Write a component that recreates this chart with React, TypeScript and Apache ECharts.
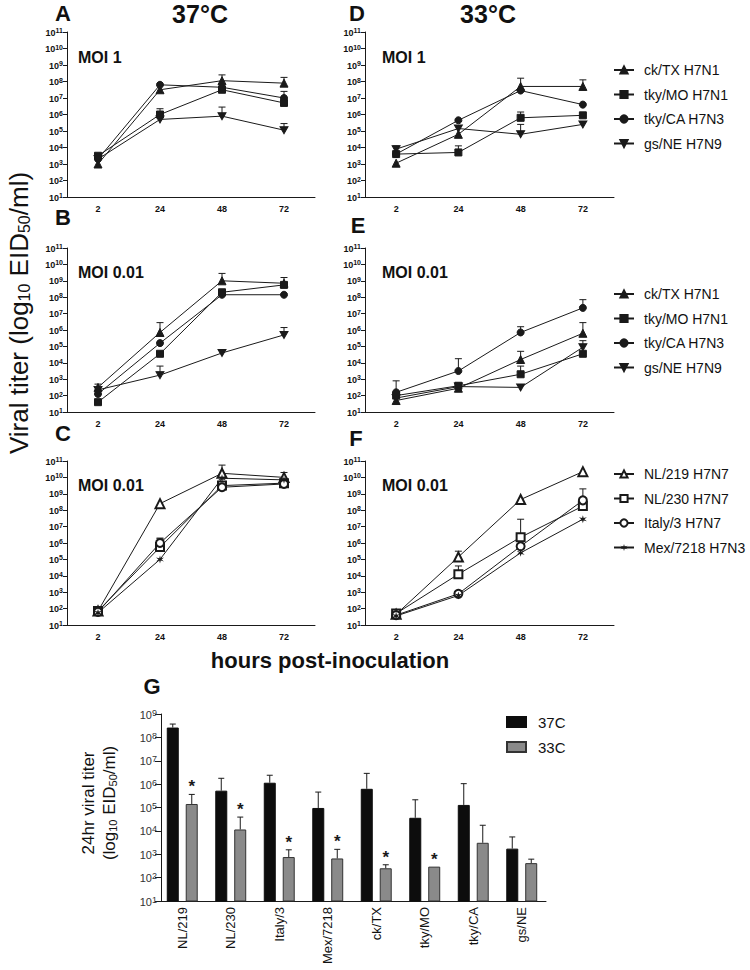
import React, { useEffect, useRef } from 'react';
import * as echarts from 'echarts';

const FONT = "'Liberation Sans', Arial, Helvetica, sans-serif";
const INK = '#1a1a1a';

// ---------- categories / names ----------
const hours = ['2', '24', '48', '72'];
const avianNames = ['ck/TX H7N1', 'tky/MO H7N1', 'tky/CA H7N3', 'gs/NE H7N9'];
const h7Names = ['NL/219 H7N7', 'NL/230 H7N7', 'Italy/3 H7N7', 'Mex/7218 H7N3'];
const barCats = ['NL/219', 'NL/230', 'Italy/3', 'Mex/7218', 'ck/TX', 'tky/MO', 'tky/CA', 'gs/NE'];
const barNames = ['37C', '33C'];

// ---------- values are log10 EID50/ml ----------
// A: 37°C MOI 1
const A_ckTX = [3.0, 7.5, 8.05, 7.9];
const A_tkyMO = [3.5, 6.0, 7.5, 6.7];
const A_tkyCA = [3.3, 7.8, 7.65, 7.0];
const A_gsNE = [3.3, 5.7, 5.9, 5.05];
const A_ckTX_err = [null, null, 8.4, 8.25];
const A_tkyMO_err = [null, 6.35, null, null];
const A_tkyCA_err = [null, null, null, 7.4];
const A_gsNE_err = [null, null, 6.45, 5.45];

// D: 33°C MOI 1
const D_ckTX = [3.05, 4.8, 7.7, 7.7];
const D_tkyMO = [3.6, 3.7, 5.8, 5.95];
const D_tkyCA = [3.6, 5.65, 7.45, 6.6];
const D_gsNE = [3.9, 5.15, 4.8, 5.4];
const D_ckTX_err = [null, null, 8.2, 8.1];
const D_tkyMO_err = [null, 4.1, 6.15, null];
const D_tkyCA_err = [null, null, null, null];
const D_gsNE_err = [4.1, null, 5.4, null];

// B: 37°C MOI 0.01
const B_ckTX = [2.5, 5.85, 9.0, 8.85];
const B_tkyMO = [1.6, 4.55, 8.3, 8.75];
const B_tkyCA = [2.1, 5.2, 8.15, 8.15];
const B_gsNE = [2.35, 3.25, 4.6, 5.7];
const B_ckTX_err = [null, 6.45, 9.45, null];
const B_tkyMO_err = [null, null, null, 9.2];
const B_tkyCA_err = [null, null, null, null];
const B_gsNE_err = [2.7, 3.8, null, 6.15];

// E: 33°C MOI 0.01
const E_ckTX = [1.7, 2.45, 4.2, 5.8];
const E_tkyMO = [2.0, 2.6, 3.3, 4.55];
const E_tkyCA = [2.2, 3.5, 5.85, 7.35];
const E_gsNE = [1.85, 2.55, 2.5, 4.95];
const E_ckTX_err = [null, null, 4.7, 6.45];
const E_tkyMO_err = [null, 2.75, 3.8, null];
const E_tkyCA_err = [2.9, 4.25, 6.2, 7.85];
const E_gsNE_err = [null, null, null, 5.35];

// C: 37°C MOI 0.01 (H7N7 / H7N3)
const C_NL219 = [1.85, 8.4, 10.25, 10.0];
const C_NL230 = [1.85, 5.75, 9.5, 9.65];
const C_Italy3 = [1.8, 6.0, 9.4, 9.6];
const C_Mex7218 = [1.75, 5.0, 9.95, 9.85];
const C_NL219_err = [null, null, 10.75, 10.3];
const C_NL230_err = [null, 6.25, null, null];
const C_Italy3_err = [null, 6.3, null, null];
const C_Mex7218_err = [null, null, null, null];

// F: 33°C MOI 0.01 (H7N7 / H7N3)
const F_NL219 = [1.65, 5.15, 8.65, 10.35];
const F_NL230 = [1.7, 4.1, 6.35, 8.25];
const F_Italy3 = [1.6, 2.9, 5.8, 8.6];
const F_Mex7218 = [1.55, 2.8, 5.4, 7.45];
const F_NL219_err = [null, 5.5, null, null];
const F_NL230_err = [null, 4.6, 7.45, null];
const F_Italy3_err = [null, 3.1, null, 9.3];
const F_Mex7218_err = [null, null, null, null];

// G: 24 h titers
const G_37 = [8.42, 5.72, 6.06, 4.98, 5.8, 4.56, 5.11, 3.24];
const G_37_err = [8.57, 6.25, 6.38, 5.66, 6.46, 5.33, 6.02, 3.74];
const G_33 = [5.15, 4.06, 2.88, 2.82, 2.4, 2.47, 3.49, 2.62];
const G_33_err = [5.56, 4.59, 3.19, 3.21, 2.55, null, 4.24, 2.79];
const G_sig = [1, 1, 1, 1, 1, 1, 0, 0];

// ---------- symbols ----------
const downTri = 'path://M0,0 L10,0 L5,9 Z';
function starPath() {
  let d = '';
  for (let k = 0; k < 12; k++) {
    const a = ((k * 30 - 90) * Math.PI) / 180;
    const r = k % 2 === 0 ? 5 : 1.7;
    d += (k === 0 ? 'M' : 'L') + (5 + r * Math.cos(a)).toFixed(2) + ',' + (5 + r * Math.sin(a)).toFixed(2) + ' ';
  }
  return 'path://' + d + 'Z';
}
const filledSyms = [
  { s: 'triangle', size: 8, bw: 1 },
  { s: 'rect', size: 7, bw: 1 },
  { s: 'circle', size: 7, bw: 1 },
  { s: downTri, size: [8, 7], bw: 1 },
];
const openSyms = [
  { s: 'emptyTriangle', size: 9, bw: 1 },
  { s: 'emptyRect', size: 8, bw: 1 },
  { s: 'emptyCircle', size: 8, bw: 1 },
  { s: starPath(), size: 8, bw: 0 },
];

const grids = [
  { left: 67, top: 32, width: 248, height: 165 }, // A
  { left: 365, top: 32, width: 249, height: 165 }, // D
  { left: 67, top: 248, width: 248, height: 164 }, // B
  { left: 365, top: 248, width: 249, height: 164 }, // E
  { left: 67, top: 461, width: 248, height: 164 }, // C
  { left: 365, top: 461, width: 249, height: 164 }, // F
  { left: 158, top: 714, width: 388, height: 187 }, // G
];

const panels = [
  { names: avianNames, syms: filledSyms, vals: [A_ckTX, A_tkyMO, A_tkyCA, A_gsNE], errs: [A_ckTX_err, A_tkyMO_err, A_tkyCA_err, A_gsNE_err] },
  { names: avianNames, syms: filledSyms, vals: [D_ckTX, D_tkyMO, D_tkyCA, D_gsNE], errs: [D_ckTX_err, D_tkyMO_err, D_tkyCA_err, D_gsNE_err] },
  { names: avianNames, syms: filledSyms, vals: [B_ckTX, B_tkyMO, B_tkyCA, B_gsNE], errs: [B_ckTX_err, B_tkyMO_err, B_tkyCA_err, B_gsNE_err] },
  { names: avianNames, syms: filledSyms, vals: [E_ckTX, E_tkyMO, E_tkyCA, E_gsNE], errs: [E_ckTX_err, E_tkyMO_err, E_tkyCA_err, E_gsNE_err] },
  { names: h7Names, syms: openSyms, vals: [C_NL219, C_NL230, C_Italy3, C_Mex7218], errs: [C_NL219_err, C_NL230_err, C_Italy3_err, C_Mex7218_err] },
  { names: h7Names, syms: openSyms, vals: [F_NL219, F_NL230, F_Italy3, F_Mex7218], errs: [F_NL219_err, F_NL230_err, F_Italy3_err, F_Mex7218_err] },
];

const supLabel = (size: number, bold: boolean, color: string) => ({
  formatter: (v: number) => `{b|10}{s|${v}}`,
  rich: {
    b: { fontSize: size, fontWeight: bold ? 'bold' : 'normal', fontFamily: FONT, color, lineHeight: size + 1, verticalAlign: 'bottom' },
    s: { fontSize: size - 2, fontWeight: bold ? 'bold' : 'normal', fontFamily: FONT, color, lineHeight: size - 2, verticalAlign: 'top' },
  },
});

function errRender(params: any, api: any) {
  const x = api.value(0);
  const lo = api.value(1);
  const hi = api.value(2);
  const a = api.coord([x, lo]);
  const b = api.coord([x, hi]);
  const st = { stroke: INK, lineWidth: 1 };
  return {
    type: 'group',
    children: [
      { type: 'line', shape: { x1: a[0], y1: a[1], x2: b[0], y2: b[1] }, style: st },
      { type: 'line', shape: { x1: b[0] - 3.5, y1: b[1], x2: b[0] + 3.5, y2: b[1] }, style: st },
    ],
  };
}

function barErrRender(params: any, api: any) {
  const j = api.value(0);
  const v = api.value(1);
  const e = api.value(2);
  const sig = api.value(3);
  const side = api.value(4);
  const off = side === 0 ? -9.5 : 9.5;
  const a = api.coord([j, v]);
  const b = api.coord([j, e]);
  const x = a[0] + off;
  const st = { stroke: INK, lineWidth: 1 };
  const children: any[] = [];
  if (e > v) {
    children.push({ type: 'line', shape: { x1: x, y1: a[1], x2: x, y2: b[1] }, style: st });
    children.push({ type: 'line', shape: { x1: x - 3, y1: b[1], x2: x + 3, y2: b[1] }, style: st });
  }
  if (sig) {
    children.push({
      type: 'text',
      x,
      y: b[1] + 1,
      style: { text: '*', textAlign: 'center', textVerticalAlign: 'bottom', fontSize: 17, fontWeight: 'bold', fontFamily: FONT, fill: INK },
    });
  }
  return { type: 'group', children };
}

function buildOption() {
  const xAxis: any[] = [];
  const yAxis: any[] = [];
  const series: any[] = [];

  panels.forEach((p, i) => {
    xAxis.push({
      gridIndex: i,
      type: 'category',
      data: hours,
      boundaryGap: true,
      axisLine: { lineStyle: { color: INK, width: 1 } },
      axisTick: { alignWithLabel: true, length: 4, lineStyle: { color: INK } },
      axisLabel: { fontSize: 9, fontWeight: 'bold', color: '#111', margin: 7, fontFamily: FONT },
    });
    yAxis.push({
      gridIndex: i,
      type: 'value',
      min: 1,
      max: 11,
      interval: 1,
      axisLine: { show: true, lineStyle: { color: INK, width: 1 } },
      axisTick: { show: true, length: 4, lineStyle: { color: INK } },
      splitLine: { show: false },
      axisLabel: { margin: 4, ...supLabel(9, true, '#111') },
    });
    p.vals.forEach((vals, k) => {
      series.push({
        type: 'line',
        name: p.names[k],
        xAxisIndex: i,
        yAxisIndex: i,
        data: vals,
        symbol: p.syms[k].s,
        symbolSize: p.syms[k].size,
        showAllSymbol: true,
        lineStyle: { color: INK, width: 1 },
        itemStyle: { color: INK, borderColor: INK, borderWidth: p.syms[k].bw },
        z: 3,
      });
    });
    const errData: any[] = [];
    p.vals.forEach((vals, k) => {
      vals.forEach((v, j) => {
        const e = p.errs[k][j];
        if (e !== null) errData.push([j, v, e]);
      });
    });
    series.push({
      type: 'custom',
      xAxisIndex: i,
      yAxisIndex: i,
      renderItem: errRender,
      data: errData,
      encode: { x: 0, y: [1, 2] },
      silent: true,
      z: 2,
    });
  });

  // G bar chart
  xAxis.push({
    gridIndex: 6,
    type: 'category',
    data: barCats,
    boundaryGap: true,
    axisLine: { lineStyle: { color: INK, width: 1 } },
    axisTick: { alignWithLabel: true, length: 5, lineStyle: { color: INK } },
    axisLabel: { rotate: 90, fontSize: 13, color: '#111', margin: 6, fontFamily: FONT },
  });
  yAxis.push({
    gridIndex: 6,
    type: 'value',
    min: 1,
    max: 9,
    interval: 1,
    offset: -3,
    axisLine: { show: true, lineStyle: { color: INK, width: 1 } },
    axisTick: { show: true, length: 6, lineStyle: { color: INK } },
    splitLine: { show: false },
    axisLabel: { margin: 4, ...supLabel(11, false, '#333') },
  });
  series.push({
    type: 'bar',
    name: barNames[0],
    xAxisIndex: 6,
    yAxisIndex: 6,
    data: G_37,
    barWidth: 12,
    barGap: '58%',
    itemStyle: { color: '#0d0d0d', borderColor: '#0d0d0d', borderWidth: 1 },
  });
  series.push({
    type: 'bar',
    name: barNames[1],
    xAxisIndex: 6,
    yAxisIndex: 6,
    data: G_33,
    barWidth: 12,
    barGap: '58%',
    itemStyle: { color: '#8a8a8a', borderColor: '#333', borderWidth: 1 },
  });
  const gErr: any[] = [];
  barCats.forEach((c, j) => {
    gErr.push([j, G_37[j], G_37_err[j] ?? G_37[j], 0, 0]);
    gErr.push([j, G_33[j], G_33_err[j] ?? G_33[j], G_sig[j], 1]);
  });
  series.push({
    type: 'custom',
    xAxisIndex: 6,
    yAxisIndex: 6,
    renderItem: barErrRender,
    data: gErr,
    encode: { x: 0, y: [1, 2] },
    silent: true,
    z: 4,
  });

  const lineLegend = (data: string[], top: number) => ({
    data,
    left: 613,
    top,
    padding: 0,
    orient: 'vertical',
    itemWidth: 20,
    itemHeight: 9,
    itemGap: 8.5,
    selectedMode: false,
    textStyle: { fontSize: 14, lineHeight: 16, fontFamily: FONT, color: '#111', padding: [0, 0, 0, 5] },
  });

  const bigText = (text: string, x: number, y: number, size: number) => ({
    type: 'text',
    x,
    y,
    style: { text, textAlign: 'center', textVerticalAlign: 'middle', fontSize: size, fontWeight: 'bold', fontFamily: FONT, fill: '#111' },
  });
  const moi = (text: string, x: number, y: number) => ({
    type: 'text',
    x,
    y,
    style: { text, textAlign: 'left', textVerticalAlign: 'middle', fontSize: 16, fontWeight: 'bold', fontFamily: FONT, fill: '#111' },
  });

  const graphic: any[] = [
    bigText('A', 63, 13, 22),
    bigText('37°C', 200, 14, 25),
    bigText('D', 357, 13, 22),
    bigText('33°C', 488, 14, 25),
    bigText('B', 63, 217, 22),
    bigText('E', 358, 225, 22),
    bigText('C', 63, 433, 22),
    bigText('F', 356, 438, 22),
    bigText('G', 152, 686, 22),
    moi('MOI 1', 78, 57),
    moi('MOI 1', 382, 57),
    moi('MOI 0.01', 78, 272),
    moi('MOI 0.01', 382, 272),
    moi('MOI 0.01', 78, 485),
    moi('MOI 0.01', 382, 485),
    bigText('hours post-inoculation', 330, 660, 22),
    {
      type: 'text',
      x: 17,
      y: 313,
      rotation: Math.PI / 2,
      style: {
        text: '{n|Viral titer (log}{s|10}{n| EID}{s|50}{n|/ml)}',
        textAlign: 'center',
        textVerticalAlign: 'middle',
        rich: {
          n: { fontSize: 26, fontFamily: FONT, fill: '#111', color: '#111', lineHeight: 30, verticalAlign: 'bottom' },
          s: { fontSize: 16, fontFamily: FONT, fill: '#111', color: '#111', lineHeight: 16, verticalAlign: 'bottom' },
        },
      },
    },
    {
      type: 'text',
      x: 97,
      y: 803,
      rotation: Math.PI / 2,
      style: {
        text: '{n|24hr viral titer}\n{n|(log}{s|10}{n| EID}{s|50}{n|/ml)}',
        textAlign: 'center',
        textVerticalAlign: 'middle',
        rich: {
          n: { fontSize: 17, fontFamily: FONT, fill: '#111', color: '#111', lineHeight: 21, verticalAlign: 'bottom', align: 'center' },
          s: { fontSize: 11, fontFamily: FONT, fill: '#111', color: '#111', lineHeight: 11, verticalAlign: 'bottom' },
        },
      },
    },
  ];

  return {
    animation: false,
    backgroundColor: '#ffffff',
    grid: grids,
    xAxis,
    yAxis,
    series,
    legend: [
      lineLegend(avianNames, 62),
      lineLegend(avianNames, 286),
      lineLegend(h7Names, 466),
      {
        data: barNames,
        left: 506,
        top: 714,
        padding: 0,
        orient: 'vertical',
        icon: 'rect',
        itemWidth: 19,
        itemHeight: 10,
        itemGap: 9,
        selectedMode: false,
        textStyle: { fontSize: 15, lineHeight: 16, fontFamily: FONT, color: '#111', padding: [0, 0, 0, 7] },
      },
    ],
    graphic,
  };
}

export default function App() {
  const ref = useRef<HTMLDivElement>(null);
  useEffect(() => {
    const chart = echarts.init(ref.current!, undefined, { renderer: 'svg' });
    chart.setOption(buildOption() as any);
    return () => chart.dispose();
  }, []);
  return (
    <div
      ref={ref}
      style={{ position: 'absolute', left: 0, top: 0, width: 750, height: 970, background: '#fff' }}
    />
  );
}
